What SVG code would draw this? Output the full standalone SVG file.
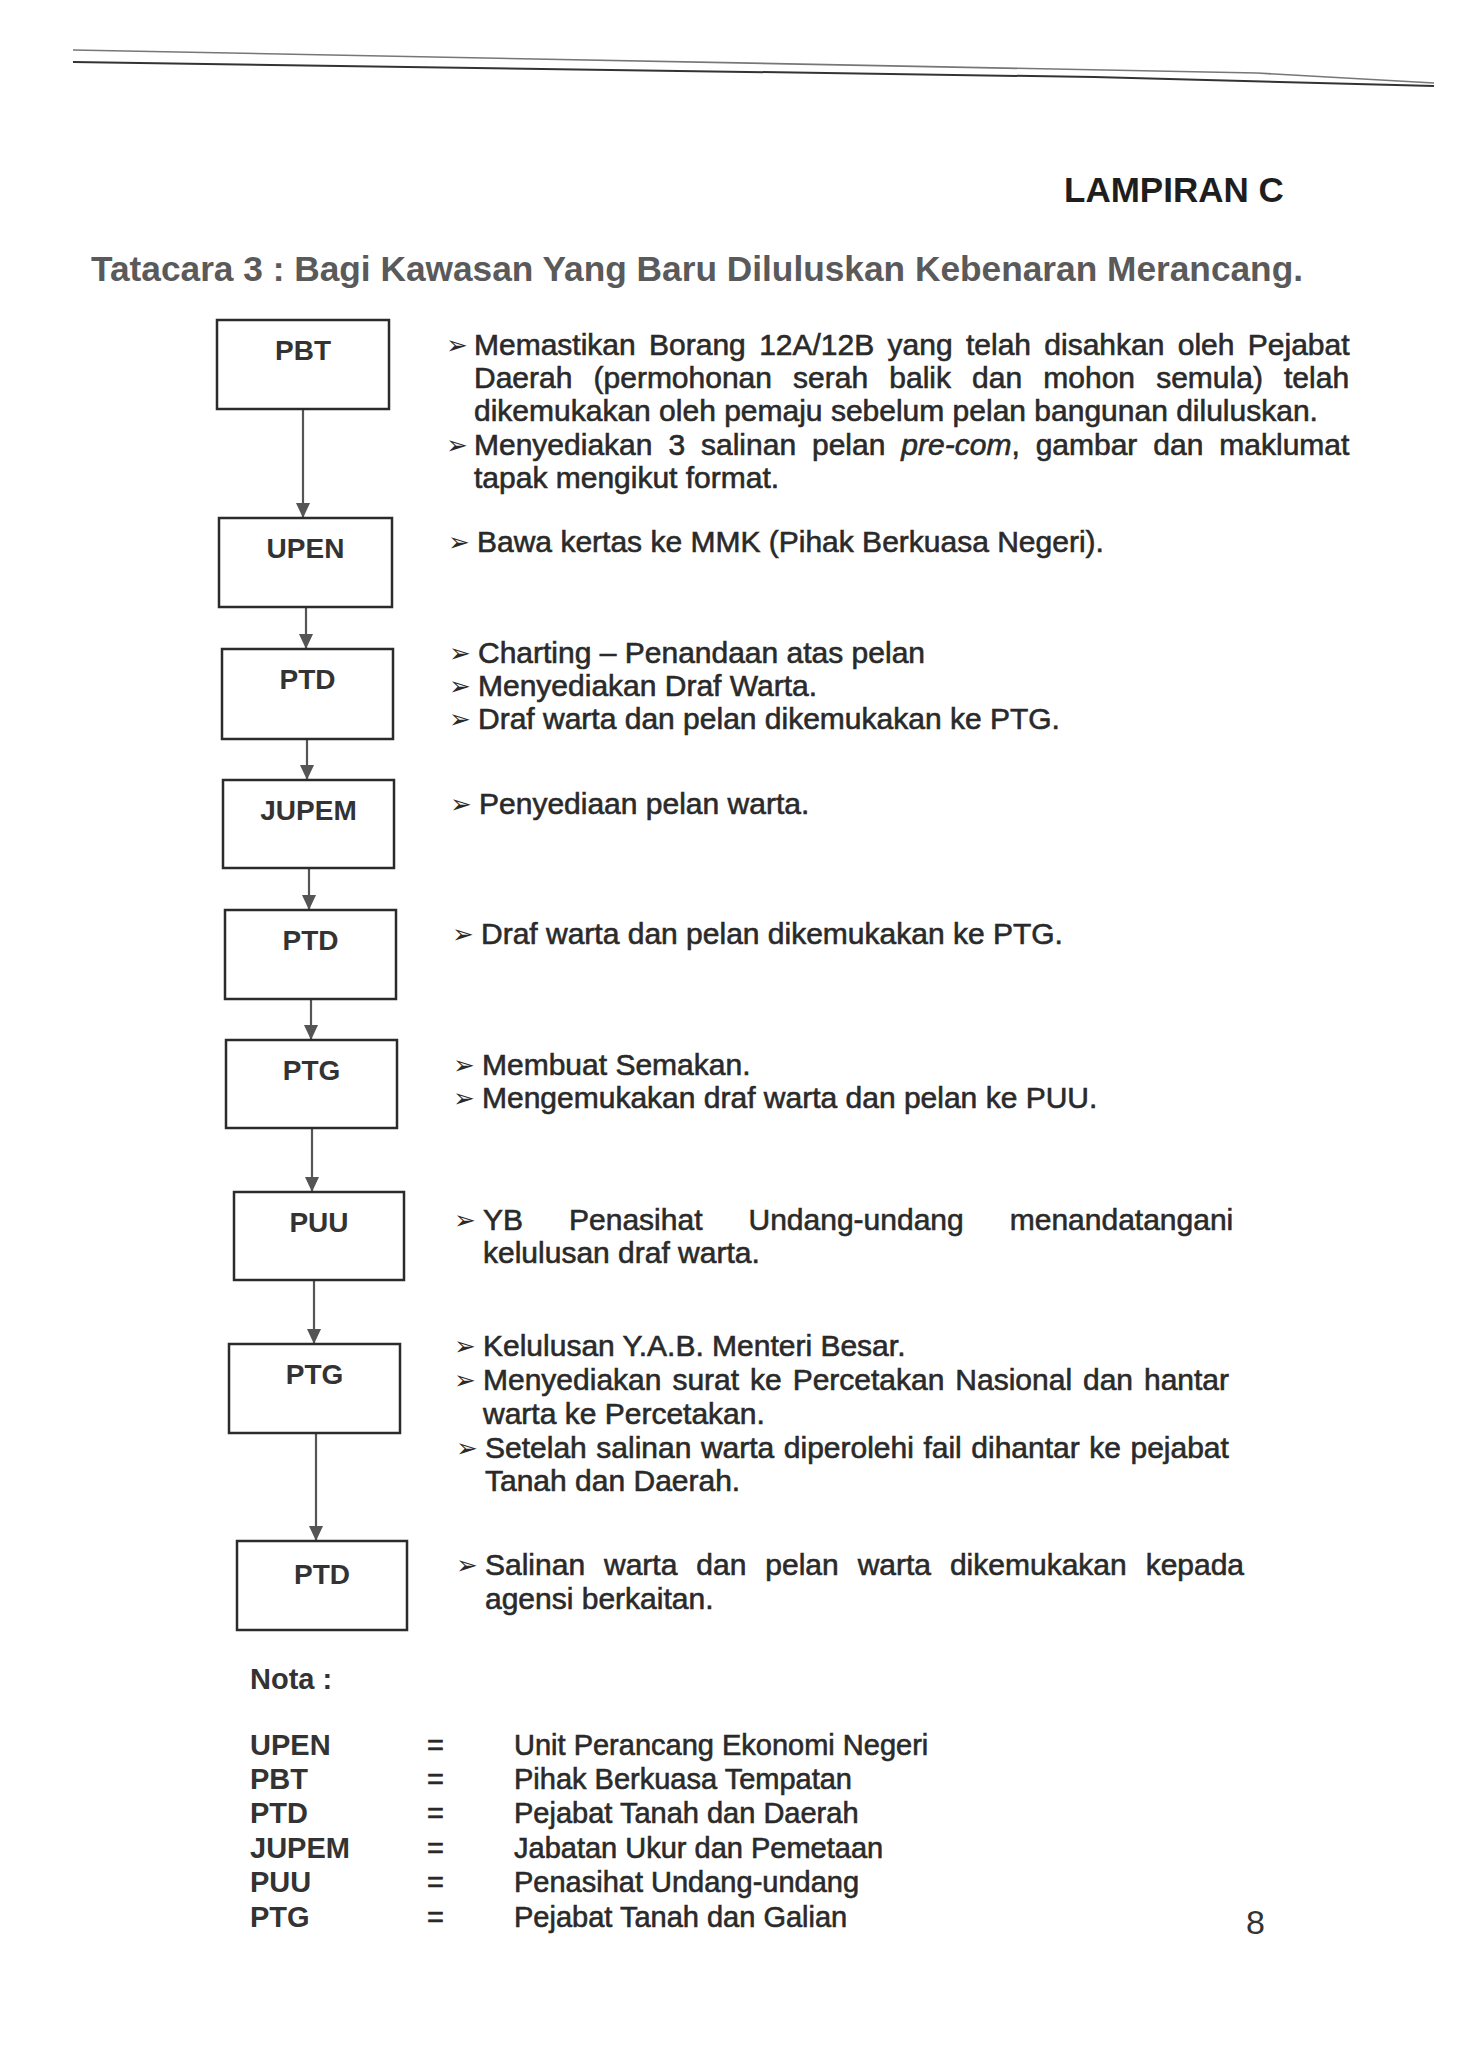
<svg xmlns="http://www.w3.org/2000/svg" width="1460" height="2048" viewBox="0 0 1460 2048">
<defs>
<style>
.box{fill:#fff;stroke:#2b2b2b;stroke-width:2.5}
.lbl{font-family:"Liberation Sans",Arial,sans-serif;font-weight:bold;font-size:28px;fill:#333;text-anchor:middle}
.t{font-family:"Liberation Sans",Arial,sans-serif;font-size:30px;fill:#2a2a2a;stroke:#2a2a2a;stroke-width:0.6}
.b{font-family:"DejaVu Sans",sans-serif;font-size:26px;fill:#2a2a2a}
.conn{stroke:#555;stroke-width:2.2;fill:none}
.hd{font-family:"Liberation Sans",Arial,sans-serif;font-weight:bold;font-size:35px}
.ab{font-family:"Liberation Sans",Arial,sans-serif;font-weight:bold;font-size:29px;fill:#333}
.mn{font-family:"Liberation Sans",Arial,sans-serif;font-size:29px;fill:#2a2a2a;stroke:#2a2a2a;stroke-width:0.6}
</style>
<marker id="ah" markerUnits="userSpaceOnUse" markerWidth="14" markerHeight="15" refX="15" refY="7" orient="auto">
<path d="M0,0 L15,7 L0,14 z" fill="#555"/>
</marker>
</defs>
<rect width="1460" height="2048" fill="#fff"/>

<g id="header-rule">
<path d="M73 50 L1257 73 L1434 83" stroke="#777" stroke-width="1.6" fill="none"/>
<path d="M73 62 L1094 77 L1434 86" stroke="#333" stroke-width="2" fill="none"/>
</g>

<text class="hd" x="1064" y="202" fill="#1e1e1e">LAMPIRAN C</text>
<text class="hd" x="91" y="281" fill="#5a5a5a" textLength="1212" lengthAdjust="spacingAndGlyphs">Tatacara 3 : Bagi Kawasan Yang Baru Diluluskan Kebenaran Merancang.</text>

<g id="connectors">
<line class="conn" x1="303" y1="409" x2="303" y2="518" marker-end="url(#ah)"/>
<line class="conn" x1="306" y1="607" x2="306" y2="649" marker-end="url(#ah)"/>
<line class="conn" x1="307" y1="739" x2="307" y2="780" marker-end="url(#ah)"/>
<line class="conn" x1="309" y1="868" x2="309" y2="910" marker-end="url(#ah)"/>
<line class="conn" x1="311" y1="999" x2="311" y2="1040" marker-end="url(#ah)"/>
<line class="conn" x1="312" y1="1128" x2="312" y2="1192" marker-end="url(#ah)"/>
<line class="conn" x1="314" y1="1280" x2="314" y2="1344" marker-end="url(#ah)"/>
<line class="conn" x1="316" y1="1433" x2="316" y2="1541" marker-end="url(#ah)"/>
</g>

<g id="node-pbt">
<rect class="box" x="217" y="320" width="172" height="89"/>
<text class="lbl" x="303" y="360">PBT</text>
</g>
<g id="node-upen">
<rect class="box" x="219" y="518" width="173" height="89"/>
<text class="lbl" x="305.5" y="558">UPEN</text>
</g>
<g id="node-ptd1">
<rect class="box" x="222" y="649" width="171" height="90"/>
<text class="lbl" x="307.5" y="689">PTD</text>
</g>
<g id="node-jupem">
<rect class="box" x="223" y="780" width="171" height="88"/>
<text class="lbl" x="308.5" y="820">JUPEM</text>
</g>
<g id="node-ptd2">
<rect class="box" x="225" y="910" width="171" height="89"/>
<text class="lbl" x="310.5" y="950">PTD</text>
</g>
<g id="node-ptg1">
<rect class="box" x="226" y="1040" width="171" height="88"/>
<text class="lbl" x="311.5" y="1080">PTG</text>
</g>
<g id="node-puu">
<rect class="box" x="234" y="1192" width="170" height="88"/>
<text class="lbl" x="319" y="1232">PUU</text>
</g>
<g id="node-ptg2">
<rect class="box" x="229" y="1344" width="171" height="89"/>
<text class="lbl" x="314.5" y="1384">PTG</text>
</g>
<g id="node-ptd3">
<rect class="box" x="237" y="1541" width="170" height="89"/>
<text class="lbl" x="322" y="1584">PTD</text>
</g>

<g id="notes">
<text class="b" x="446" y="354">➢</text>
<text class="t" x="474" y="355" word-spacing="5">Memastikan Borang 12A/12B yang telah disahkan oleh Pejabat</text>
<text class="t" x="474" y="388" word-spacing="12.8">Daerah (permohonan serah balik dan mohon semula) telah</text>
<text class="t" x="474" y="421">dikemukakan oleh pemaju sebelum pelan bangunan diluluskan.</text>
<text class="b" x="446" y="454">➢</text>
<text class="t" x="474" y="455" word-spacing="7.6">Menyediakan 3 salinan pelan <tspan font-style="italic">pre-com</tspan>, gambar dan maklumat</text>
<text class="t" x="474" y="488">tapak mengikut format.</text>

<text class="b" x="448" y="551">➢</text>
<text class="t" x="477" y="552">Bawa kertas ke MMK (Pihak Berkuasa Negeri).</text>

<text class="b" x="449" y="662">➢</text>
<text class="t" x="478" y="663">Charting – Penandaan atas pelan</text>
<text class="b" x="449" y="695">➢</text>
<text class="t" x="478" y="696">Menyediakan Draf Warta.</text>
<text class="b" x="449" y="728">➢</text>
<text class="t" x="478" y="729">Draf warta dan pelan dikemukakan ke PTG.</text>

<text class="b" x="450" y="813">➢</text>
<text class="t" x="479" y="814">Penyediaan pelan warta.</text>

<text class="b" x="452" y="943">➢</text>
<text class="t" x="481" y="944">Draf warta dan pelan dikemukakan ke PTG.</text>

<text class="b" x="453" y="1074">➢</text>
<text class="t" x="482" y="1075">Membuat Semakan.</text>
<text class="b" x="453" y="1107">➢</text>
<text class="t" x="482" y="1108">Mengemukakan draf warta dan pelan ke PUU.</text>

<text class="b" x="454" y="1229">➢</text>
<text class="t" x="483" y="1230" word-spacing="37.7">YB Penasihat Undang-undang menandatangani</text>
<text class="t" x="483" y="1263">kelulusan draf warta.</text>

<text class="b" x="454" y="1355">➢</text>
<text class="t" x="483" y="1356">Kelulusan Y.A.B. Menteri Besar.</text>
<text class="b" x="454" y="1389">➢</text>
<text class="t" x="483" y="1390" word-spacing="2.6">Menyediakan surat ke Percetakan Nasional dan hantar</text>
<text class="t" x="483" y="1424">warta ke Percetakan.</text>
<text class="b" x="456" y="1457">➢</text>
<text class="t" x="485" y="1458" word-spacing="1.2">Setelah salinan warta diperolehi fail dihantar ke pejabat</text>
<text class="t" x="485" y="1491">Tanah dan Daerah.</text>

<text class="b" x="456" y="1574">➢</text>
<text class="t" x="485" y="1575" word-spacing="10.6">Salinan warta dan pelan warta dikemukakan kepada</text>
<text class="t" x="485" y="1609">agensi berkaitan.</text>
</g>

<g id="legend">
<text class="ab" x="250" y="1689">Nota :</text>
<text class="ab" x="250" y="1755">UPEN</text><text class="mn" x="427" y="1755">=</text><text class="mn" x="514" y="1755">Unit Perancang Ekonomi Negeri</text>
<text class="ab" x="250" y="1789">PBT</text><text class="mn" x="427" y="1789">=</text><text class="mn" x="514" y="1789">Pihak Berkuasa Tempatan</text>
<text class="ab" x="250" y="1823">PTD</text><text class="mn" x="427" y="1823">=</text><text class="mn" x="514" y="1823">Pejabat Tanah dan Daerah</text>
<text class="ab" x="250" y="1858">JUPEM</text><text class="mn" x="427" y="1858">=</text><text class="mn" x="514" y="1858">Jabatan Ukur dan Pemetaan</text>
<text class="ab" x="250" y="1892">PUU</text><text class="mn" x="427" y="1892">=</text><text class="mn" x="514" y="1892">Penasihat Undang-undang</text>
<text class="ab" x="250" y="1927">PTG</text><text class="mn" x="427" y="1927">=</text><text class="mn" x="514" y="1927">Pejabat Tanah dan Galian</text>
</g>

<text x="1246" y="1934" font-family="Liberation Sans, Arial, sans-serif" font-size="34" fill="#333">8</text>
</svg>
